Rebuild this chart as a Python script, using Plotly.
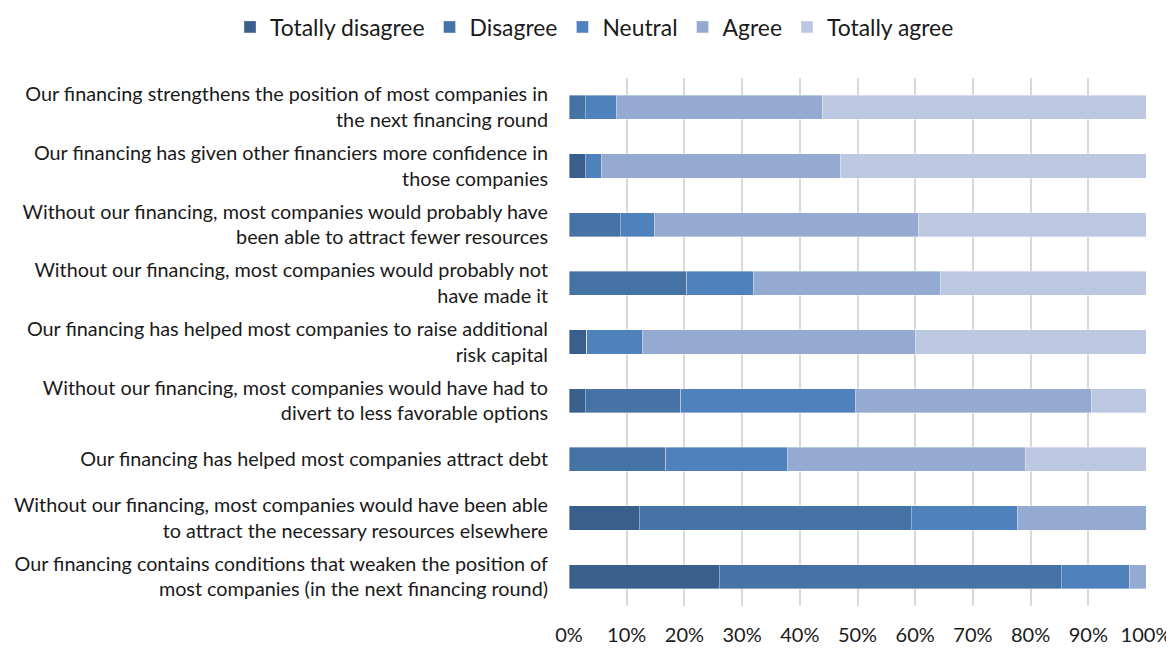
import plotly.graph_objects as go

categories = [
    "Our financing strengthens the position of most companies in<br>the next financing round",
    "Our financing has given other financiers more confidence in<br>those companies",
    "Without our financing, most companies would probably have<br>been able to attract fewer resources",
    "Without our financing, most companies would probably not<br>have made it",
    "Our financing has helped most companies to raise additional<br>risk capital",
    "Without our financing, most companies would have had to<br>divert to less favorable options",
    "Our financing has helped most companies attract debt",
    "Without our financing, most companies would have been able<br>to attract the necessary resources elsewhere",
    "Our financing contains conditions that weaken the position of<br>most companies (in the next financing round)",
]

series_names = ["Totally disagree", "Disagree", "Neutral", "Agree", "Totally agree"]

totally_disagree = [0.0, 2.8, 0.0, 0.0, 3.1, 2.8, 0.0, 12.2, 26.0]
disagree = [2.8, 0.0, 8.9, 20.4, 0.0, 16.6, 16.8, 47.1, 59.3]
neutral = [5.5, 2.8, 5.9, 11.6, 9.7, 30.2, 21.0, 18.5, 11.8]
agree = [35.7, 41.4, 45.7, 32.4, 47.2, 41.0, 41.4, 22.2, 2.9]
totally_agree = [56.0, 53.0, 39.5, 35.6, 40.0, 9.4, 20.8, 0.0, 0.0]

colors = ["#3b5f8d", "#4573a6", "#4f81bd", "#95aad1", "#bcc8e1"]

x_tickvals = [0, 10, 20, 30, 40, 50, 60, 70, 80, 90, 100]
x_ticktext = ["0%", "10%", "20%", "30%", "40%", "50%", "60%", "70%", "80%", "90%", "100%"]

# page body has an 8px default margin: size figure to fit the window
W, H = 1166, 640
L, R, T, B = 561, 28, 70, 42
plot_w, plot_h = W - L - R, H - T - B

fig = go.Figure()
for name, vals, col in zip(series_names,
                           [totally_disagree, disagree, neutral, agree, totally_agree],
                           colors):
    fig.add_trace(go.Bar(
        y=categories, x=vals, name=name, orientation="h",
        marker=dict(color=col, line=dict(color="rgba(255,255,255,0.6)", width=0.6)),
    ))

fig.update_layout(
    barmode="stack",
    bargap=0.59,
    width=W, height=H,
    margin=dict(l=L, r=R, t=T, b=B, autoexpand=False),
    paper_bgcolor="white", plot_bgcolor="white",
    font=dict(family="Lato, Carlito, Calibri, sans-serif", color="#1a1a1a"),
    legend=dict(
        orientation="h", traceorder="normal",
        xref="paper", yref="paper",
        x=(222 - L) / plot_w, xanchor="left",
        y=1 + 51 / plot_h, yanchor="middle",
        font=dict(size=22.9), itemwidth=30,
    ),
    showlegend=True,
)
fig.update_xaxes(
    range=[0, 100], tickvals=x_tickvals, ticktext=x_ticktext,
    showgrid=True, gridcolor="#d9d9d9", gridwidth=1.5,
    zeroline=False, showline=False, automargin=False,
    tickfont=dict(size=20), ticklabelstandoff=15,
)
fig.update_yaxes(
    autorange="reversed", showgrid=False, zeroline=False, showline=False,
    automargin=False,
    tickfont=dict(size=19.8), ticklabelstandoff=20,
)

fig.write_html("out.html")
